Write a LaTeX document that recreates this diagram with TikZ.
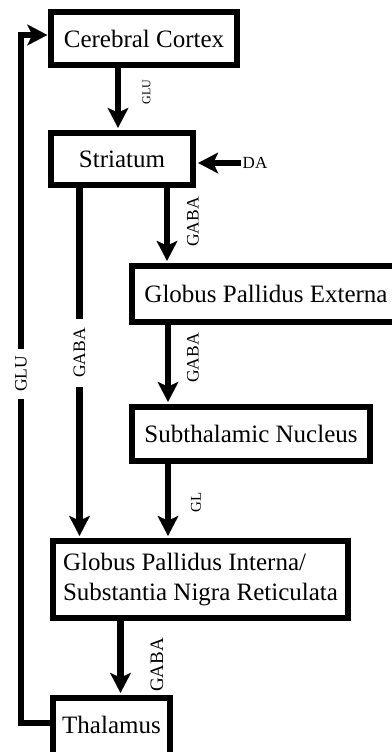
\documentclass[tikz,border=0pt]{standalone}
\usepackage{fontspec}
\setmainfont{Liberation Serif}
\usetikzlibrary{arrows.meta}
\begin{document}
\begin{tikzpicture}[x=1pt,y=-1pt,
  box/.style={draw, line width=6.5pt, inner sep=0pt, font=\fontsize{25}{30}\selectfont},
  arr/.style={line width=6.5pt, -{Stealth[length=20pt,width=21pt,inset=5pt,line width=0.01pt]}, shorten >=2pt},
  ln/.style={line width=6.5pt},
  lbl/.style={rotate=90, inner sep=1pt, font=\fontsize{17.5}{18}\selectfont},
  gaplbl/.style={lbl, fill=white, inner xsep=9pt, inner ysep=4pt},
]
\useasboundingbox (0,0) rectangle (391,752);
% boxes
\node[box, minimum width=186pt, minimum height=53pt] (cortex) at (144,38.5) {Cerebral Cortex};
\node[box, minimum width=142pt, minimum height=52pt] (stri) at (122,159) {Striatum};
\node[box, minimum width=268pt, minimum height=56pt] (gpe) at (266,294) {Globus Pallidus Externa};
\node[box, minimum width=238pt, minimum height=54pt] (stn) at (251,434) {Subthalamic Nucleus};
\node[box, minimum width=295pt, minimum height=77pt, align=left] (gpi) at (200.5,579.5) {Globus Pallidus Interna/\\Substantia Nigra Reticulata};
\node[box, minimum width=117pt, minimum height=62pt, text depth=9pt] (thal) at (111.5,729) {Thalamus};
% columns
\coordinate (cA) at (118,0);
\coordinate (cB) at (167,0);
\coordinate (cC) at (79.5,0);
\coordinate (cD) at (168,0);
\coordinate (cE) at (120.5,0);
\coordinate (fbB) at (21,723);
\coordinate (fbT) at (21,35);
% arrows
\draw[arr] (cortex.south -| cA) -- (stri.north -| cA);
\node[rotate=90, inner sep=1pt, font=\fontsize{12}{13}\selectfont] (glu1) at (146.5,92) {GLU};
\node[font=\fontsize{17}{18}\selectfont, inner sep=2pt] (da) at (255,163) {DA};
\draw[arr] (da.west) -- (stri.east |- da.west);
\draw[arr] (stri.south -| cB) -- (gpe.north -| cB);
\node[lbl] (gaba1) at (193,222) {GABA};
\draw[arr] (stri.south -| cC) -- (gpi.north -| cC);
\node[gaplbl] (gaba2) at (79.5,353) {GABA};
\draw[arr] (gpe.south -| cD) -- (stn.north -| cD);
\node[lbl] (gaba3) at (193,358) {GABA};
\draw[arr] (stn.south -| cD) -- (gpi.north -| cD);
\node[rotate=90, inner sep=1pt, font=\fontsize{15}{16}\selectfont] (gl) at (196,502) {GL};
\draw[arr] (gpi.south -| cE) -- (thal.north -| cE);
\node[lbl, font=\fontsize{19}{20}\selectfont] (gaba4) at (157,665) {GABA};
% feedback
\draw[arr, shorten >=0.5pt] (thal.west |- fbB) -- (fbB) -- (fbT) -- (cortex.west |- fbT);
\node[gaplbl, inner xsep=7pt] (glu2) at (21,374) {GLU};
\end{tikzpicture}
\end{document}
